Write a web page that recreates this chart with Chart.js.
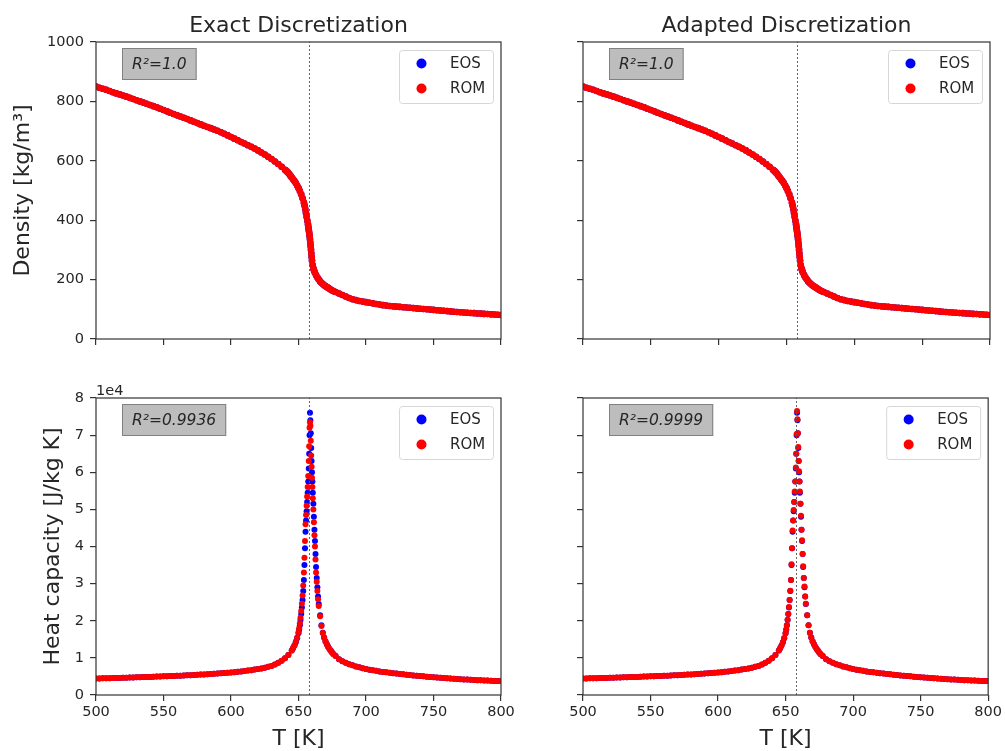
<!DOCTYPE html>
<html>
<head>
<meta charset="utf-8">
<script src="https://cdn.jsdelivr.net/npm/chart.js@4.4.0/dist/chart.umd.min.js"></script>
<style>
  body { margin: 0; background: #fff; }
  #wrap { position: relative; width: 1005px; height: 751px; }
  #wrap canvas { position: absolute; left: 0; top: 0; }
</style>
</head>
<body>
<div id="wrap">
  <canvas id="c1" width="1005" height="751"></canvas>
  <canvas id="c2" width="1005" height="751"></canvas>
  <canvas id="c3" width="1005" height="751"></canvas>
  <canvas id="c4" width="1005" height="751"></canvas>
</div>
<script>
// ---- data ----
const critT = 658.1;
const xTicks = [500, 550, 600, 650, 700, 750, 800];

// density [kg/m3], liquid side
const rhoTLow = [500,502.5,505,507.5,510,512.5,515,517.5,520,522.5,525,527.5,530,532.5,535,537.5,540,542.5,545,547.5,
  550,552.5,555,557.5,560,562.5,565,567.5,570,572.5,575,577.5,580,582.5,585,587.5,590,592.5,595,597.5,
  600,602.5,605,607.5,610,612.5,615,617.5,620,622.5,625,627.5,630,632.5,635,637.5,640,
  641,642,643,644,645,646,647,648,649,650,651,652,653];
const rhoLow = [850,846,842.5,839,835,831,827,823.5,820,816,812,808,804,800,796,792,788,784,780,775.5,
  771,766.5,762,757.5,753,749,745,740.5,736,731.5,727,722.5,718,714,710,705.5,701,696,691,685.5,
  680,674.5,669,663.5,658,652.5,647,641,635,628,621,613.5,606,597.5,589,580,570,
  566,561,556,550,544,538,532,525,517,508,498,487,474];
// steep part around the critical point
const rhoTMid = [654,654.5,655,655.5,656,656.5,657,657.25,657.5,657.75,658,658.25,658.5,658.75,659,659.25,659.5,659.75,660,660.5,661];
const rhoMidEos = [459,449,437,424,411,398,385,377,370,362,354,345,335,324,312,300,287,275,263,248,238];
const rhoMidRom = [460,450,439,426,414,400,388,380,372,364,356,347,337,326,314,302,289,277,265,249,238];
// vapour side
const rhoTHigh = [661.5,662,663,664,665,666,667,668,669,670,671,672,673,674,675,676,677.5,
  680,682.5,685,687.5,690,692.5,695,697.5,700,702.5,705,707.5,710,712.5,715,717.5,720,722.5,725,727.5,
  730,732.5,735,737.5,740,742.5,745,747.5,750,752.5,755,757.5,760,762.5,765,767.5,770,772.5,775,777.5,
  780,782.5,785,787.5,790,792.5,795,797.5,800];
const rhoHigh = [231,225,215,207,200,194,189,185,181,178,175,172,169,166,163.5,161,158,
  153,148,143,138,134,131,128,126,124,122,120,118,116,114,112.5,111,110,109,108,107,
  106,105,104,103,102,101,100,99,98,97,96,95,94,93,92,91,90,89,88.5,87.5,
  87,86,85.5,84.5,84,83,82.5,81.5,81];

// heat capacity [J/kg K]
const cpTLow = [500,502.5,505,507.5,510,512.5,515,517.5,520,522.5,525,527.5,530,532.5,535,537.5,540,542.5,545,547.5,
  550,552.5,555,557.5,560,562.5,565,567.5,570,572.5,575,577.5,580,582.5,585,587.5,590,592.5,595,597.5,
  600,602.5,605,607.5,610,612.5,615,617.5,620,622.5,625,627.5,630,632.5,635,637.5,640,642.5,645];
const cpLow = [4450,4470,4490,4510,4540,4560,4590,4610,4640,4670,4700,4730,4760,4790,4820,4850,4880,4910,4950,4980,
  5020,5050,5090,5130,5170,5210,5250,5300,5350,5400,5450,5500,5550,5580,5640,5700,5760,5830,5900,5980,
  6060,6150,6240,6340,6450,6570,6700,6840,7000,7170,7360,7580,7830,8200,8700,9200,9900,10800,12000];
const cpTPeak = [646,647,648,649,650,650.5,651,651.5,652,652.5,653,653.5,654,654.4,654.8,655.2,655.6,656,656.4,656.8,
  657.2,657.6,657.9,658.2,658.5,658.8,659.1,659.4,659.7,660,660.3,660.6,661,661.4,661.8,662.2,662.6,663,663.5,664,
  664.5,665,666,667,668,669,670,671,672,673,674,675,676,677.5];
const cpPeakEos = [12600,13300,14200,15300,16600,17600,18800,20200,21800,23600,25600,28000,31000,35000,39500,44000,47000,49500,52000,54500,
  57500,61000,65000,70000,76000,74000,70500,66500,63000,60000,57500,54500,51500,48000,44500,41500,38000,34500,31500,29000,
  26500,24500,21500,18800,16800,15500,14500,13700,13000,12400,11900,11400,11000,10500];
const cpPeakRomExact = [12700,13400,14400,15500,16900,18000,19300,20800,22600,24600,26800,29500,33000,37000,41500,46000,48500,51000,53500,56000,
  59000,63000,67000,72000,73500,72500,68500,64500,61500,58500,56000,53000,50000,46500,43000,40000,36500,33000,30500,28000,
  25800,24000,21200,18600,16700,15400,14400,13600,12950,12350,11850,11400,11000,10500];
const cpPeakRomAdapted = [12600,13350,14200,15350,16600,17700,18800,20300,21800,23700,25600,28100,31000,35200,39500,44300,47000,49800,52000,54800,
  57500,61300,65000,70300,76500,74300,70500,66800,63000,60300,57500,54800,51500,48300,44500,41700,38000,34700,31500,29200,
  26500,24600,21500,18800,16800,15500,14500,13700,13000,12400,11900,11400,11000,10500];
const cpTHigh = [680,682.5,685,687.5,690,692.5,695,697.5,700,702.5,705,707.5,710,712.5,715,717.5,720,722.5,725,727.5,
  730,732.5,735,737.5,740,742.5,745,747.5,750,752.5,755,757.5,760,762.5,765,767.5,770,772.5,775,777.5,
  780,782.5,785,787.5,790,792.5,795,797.5,800];
const cpHigh = [9600,9100,8700,8300,8000,7700,7450,7220,7000,6820,6650,6500,6350,6220,6100,5980,5870,5760,5660,5560,
  5460,5370,5280,5190,5100,5020,4940,4860,4780,4710,4640,4570,4500,4440,4380,4320,4260,4200,4150,4100,
  4050,4000,3960,3920,3880,3840,3800,3770,3740];

const rhoT = [...rhoTLow, ...rhoTMid, ...rhoTHigh];
const rhoEos = [...rhoLow, ...rhoMidEos, ...rhoHigh];
const rhoRom = [...rhoLow, ...rhoMidRom, ...rhoHigh];
const cpT = [...cpTLow, ...cpTPeak, ...cpTHigh];
const cpEos = [...cpLow, ...cpPeakEos, ...cpHigh];
const cpRomExact = [...cpLow, ...cpPeakRomExact, ...cpHigh];
const cpRomAdapted = [...cpLow, ...cpPeakRomAdapted, ...cpHigh];

const FONT = '"DejaVu Sans", sans-serif';
const TXT = '#262626';

function pts(xs, ys) {
  return xs.map((x, i) => ({ x: x, y: ys[i] }));
}

// titles, boxes, frame and legend, matplotlib style
const decor = {
  id: 'decor',
  afterDraw(chart, args, o) {
    const ctx = chart.ctx;
    const a = chart.chartArea;
    ctx.save();

    ctx.strokeStyle = '#333';
    ctx.lineWidth = 1.2;
    ctx.strokeRect(a.left, a.top, a.right - a.left, a.bottom - a.top);

    // R2 box
    ctx.font = 'italic 15.5px ' + FONT;
    let tw = ctx.measureText(o.r2).width;
    let bx = a.left + 26, by = a.top + 6, bw = tw + 20, bh = 32;
    ctx.fillStyle = '#bdbdbd';
    ctx.fillRect(bx, by, bw, bh);
    ctx.strokeStyle = '#808080';
    ctx.lineWidth = 1;
    ctx.strokeRect(bx + 0.5, by + 0.5, bw - 1, bh - 1);
    ctx.fillStyle = TXT;
    ctx.textAlign = 'center';
    ctx.textBaseline = 'middle';
    ctx.fillText(o.r2, bx + bw / 2, by + bh / 2 + 1);

    // legend
    let lw = 94, lh = 53;
    let lx = a.right - 8 - lw, ly = a.top + 8;
    ctx.beginPath();
    ctx.roundRect(lx + 0.5, ly + 0.5, lw, lh, 3);
    ctx.fillStyle = 'rgba(255,255,255,0.85)';
    ctx.fill();
    ctx.strokeStyle = '#d6d6d6';
    ctx.stroke();
    const items = [['EOS', '#0000ff'], ['ROM', '#ff0000']];
    ctx.font = '15px ' + FONT;
    ctx.textAlign = 'left';
    items.forEach((it, i) => {
      let cy = ly + 13.5 + i * 25;
      ctx.beginPath();
      ctx.arc(lx + 22.5, cy, 5, 0, Math.PI * 2);
      ctx.fillStyle = it[1];
      ctx.fill();
      ctx.fillStyle = TXT;
      ctx.fillText(it[0], lx + 51, cy + 1);
    });

    ctx.fillStyle = TXT;
    ctx.textBaseline = 'alphabetic';
    if (o.title) {
      ctx.font = '22px ' + FONT;
      ctx.textAlign = 'center';
      ctx.fillText(o.title, (a.left + a.right) / 2, 32);
    }
    if (o.xlabel) {
      ctx.font = '22px ' + FONT;
      ctx.textAlign = 'center';
      ctx.fillText(o.xlabel, (a.left + a.right) / 2, 745);
    }
    if (o.offset) {
      ctx.font = '14.5px ' + FONT;
      ctx.textAlign = 'left';
      ctx.fillText(o.offset, a.left, a.top - 3);
    }
    if (o.ylabel) {
      ctx.save();
      ctx.translate(o.ylabelX, (a.top + a.bottom) / 2);
      ctx.rotate(-Math.PI / 2);
      ctx.font = '22px ' + FONT;
      ctx.textAlign = 'center';
      ctx.fillText(o.ylabel, 0, 0);
      ctx.restore();
    }
    ctx.restore();
  }
};

function makePanel(id, box, p) {
  const isRho = p.kind === 'rho';
  const yMax = isRho ? 1000 : 80000;
  const xs = isRho ? rhoT : cpT;
  const eos = isRho ? rhoEos : cpEos;
  const rom = p.rom;
  const r = isRho ? 3.3 : 3.0;
  new Chart(document.getElementById(id), {
    type: 'scatter',
    data: {
      datasets: [
        { label: 'EOS', data: pts(xs, eos), backgroundColor: '#0000ff', pointRadius: r,
          pointBorderWidth: 0, order: 2, clip: 0 },
        { label: 'ROM', data: pts(xs, rom), backgroundColor: '#ff0000', pointRadius: r,
          pointBorderWidth: 0, order: 1, clip: 0 },
        { label: 'Tc', data: [{ x: critT, y: 0 }, { x: critT, y: yMax }], showLine: true,
          borderColor: '#555', borderWidth: 0.9, borderDash: [2, 2], pointRadius: 0, order: 0 }
      ]
    },
    options: {
      responsive: false,
      animation: false,
      devicePixelRatio: 1,
      events: [],
      layout: {
        autoPadding: false,
        padding: { left: 0, top: box.t, right: 1005 - box.r, bottom: 751 - box.b - 30 }
      },
      plugins: {
        legend: { display: false },
        tooltip: { enabled: false },
        decor: p
      },
      scales: {
        x: {
          type: 'linear', min: 500, max: 800,
          afterFit: s => { s.height = 30; },
          afterBuildTicks: s => { s.ticks = xTicks.map(v => ({ value: v })); },
          grid: { drawOnChartArea: false, tickLength: 6, color: '#333', lineWidth: 1.2 },
          border: { display: false },
          ticks: {
            autoSkip: false, maxRotation: 0, padding: 3, color: TXT,
            font: { family: FONT, size: 14.5 },
            callback: v => p.xTickLabels ? String(v) : ''
          }
        },
        y: {
          type: 'linear', min: 0, max: yMax,
          afterFit: s => { s.width = box.l; },
          grid: { drawOnChartArea: false, tickLength: 6, color: '#333', lineWidth: 1.2 },
          border: { display: false },
          ticks: {
            stepSize: isRho ? 200 : 10000, autoSkip: false, padding: 6, color: TXT,
            font: { family: FONT, size: 14.5 },
            callback: v => p.yTickLabels ? (isRho ? String(v) : String(v / 10000)) : ''
          }
        }
      }
    },
    plugins: [decor]
  });
}

makePanel('c1', { l: 96, r: 501, t: 42, b: 339 }, {
  kind: 'rho', rom: rhoRom, title: 'Exact Discretization', ylabel: 'Density [kg/m³]', ylabelX: 29,
  r2: 'R²=1.0', xTickLabels: false, yTickLabels: true
});
makePanel('c2', { l: 583, r: 990, t: 42, b: 339 }, {
  kind: 'rho', rom: rhoRom, title: 'Adapted Discretization',
  r2: 'R²=1.0', xTickLabels: false, yTickLabels: false
});
makePanel('c3', { l: 96, r: 501, t: 398, b: 695 }, {
  kind: 'cp', rom: cpRomExact, ylabel: 'Heat capacity [J/kg K]', ylabelX: 58.5, xlabel: 'T [K]',
  offset: '1e4', r2: 'R²=0.9936', xTickLabels: true, yTickLabels: true
});
makePanel('c4', { l: 583, r: 990, t: 398, b: 695 }, {
  kind: 'cp', rom: cpRomAdapted, xlabel: 'T [K]',
  r2: 'R²=0.9999', xTickLabels: true, yTickLabels: false
});
</script>
</body>
</html>
